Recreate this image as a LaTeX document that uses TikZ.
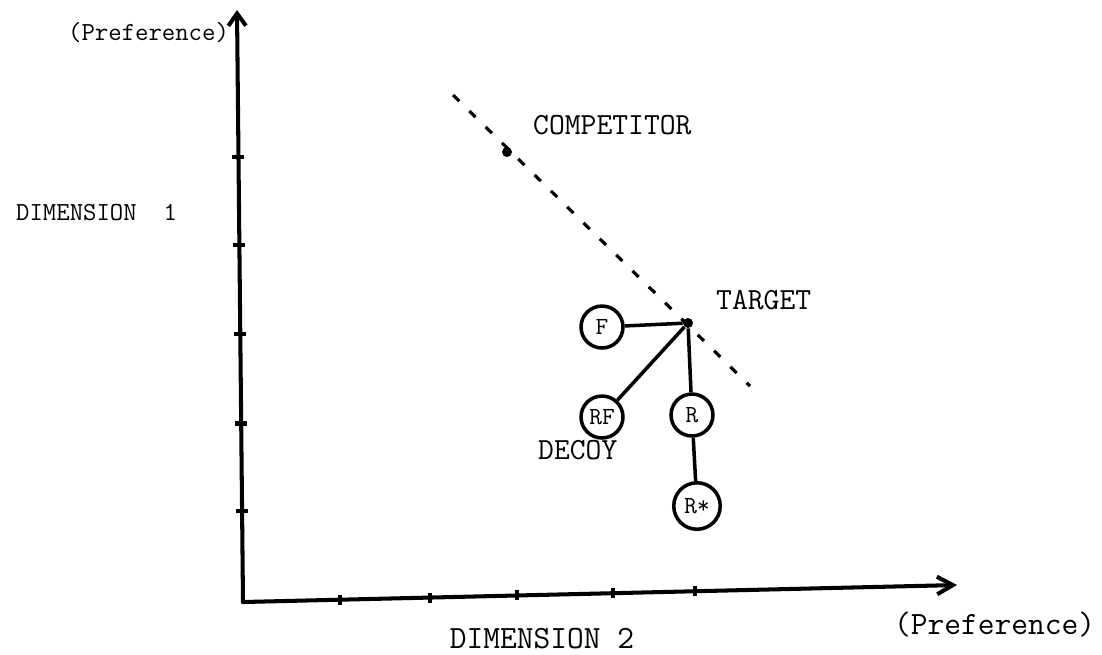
\documentclass[tikz,border=0pt]{standalone}
\usepackage{fontspec}
\usepackage{tikz}
\usetikzlibrary{calc,arrows.meta}

\begin{document}
\begin{tikzpicture}[x=0.02cm,y=-0.02cm,
    axis/.style={line width=2.3pt,line cap=round},
    tick/.style={line width=2.6pt},
    link/.style={line width=2pt},
    opt/.style={circle,draw,line width=2pt,minimum size=0.84cm,inner sep=1pt,font=\ttfamily\fontsize{14}{16}\selectfont},
    pt/.style={circle,fill,inner sep=0pt,minimum size=10pt*0.567},
    lbl/.style={font=\ttfamily\fontsize{17.5}{20}\selectfont},
    smalllbl/.style={font=\ttfamily\fontsize{14.8}{17}\selectfont}]
        \useasboundingbox (0,0) rectangle (1102,654);
        % axes
        \coordinate (o) at (243,602);
        \coordinate (ytop) at (237,10);
        \coordinate (xend) at (957,585);
        \draw[axis,-{Straight Barb[length=7pt,width=10pt]}] (o) -- (ytop);
        \draw[axis,-{Straight Barb[length=9pt,width=10pt]}] (o) -- (xend);
        \foreach \p in {0.154,0.302,0.453,0.603,0.752}
            \draw[tick] ($(o)!\p!(ytop)$) ++(-6,0) -- ++(12,0);
        \foreach \p in {0.136,0.262,0.384,0.518,0.633}
            \draw[tick] ($(o)!\p!(xend)$) ++(0,-5) -- ++(0,10);
        \node[smalllbl,anchor=east,inner sep=1pt] (pref1) at (231,33) {(Preference)};
        \node[smalllbl,anchor=west] (dim1) at (10,213) {DIMENSION~~1};
        \node[lbl,font=\ttfamily\fontsize{18.5}{20}\selectfont] (dim2) at (542,639) {DIMENSION 2};
        \node[lbl,font=\ttfamily\fontsize{18.5}{20}\selectfont,anchor=west] (pref2) at (888,625) {(Preference)};

        % indifference line through the competitor
        \coordinate (d1) at (453,95);
        \coordinate (d2) at (750,386);
        \draw[line width=1.8pt,dash pattern=on 5pt off 8pt] (d1) -- (d2);

        \node[pt] (comp) at (507,152) {};
        \node[lbl,anchor=west] (compl) at (527,125) {COMPETITOR};
        \node[pt] (tgt) at (688,323) {};
        \node[lbl,anchor=west] (tgtl) at (710,300) {TARGET};

        % decoys
        \node[opt] (F) at (602,327) {F};
        \node[opt] (RF) at (602,417) {RF};
        \node[opt] (R) at (692,415) {R};
        \node[opt,minimum size=0.93cm] (Rs) at (697,506) {R*};
        \node[lbl,anchor=west] (decoy) at (532,450) {DECOY};
        \draw[link] (F) -- (tgt);
        \draw[link] (RF) -- (tgt);
        \draw[link] (R) -- (tgt);
        \draw[link] (R) -- (Rs);
    \end{tikzpicture}
\end{document}
